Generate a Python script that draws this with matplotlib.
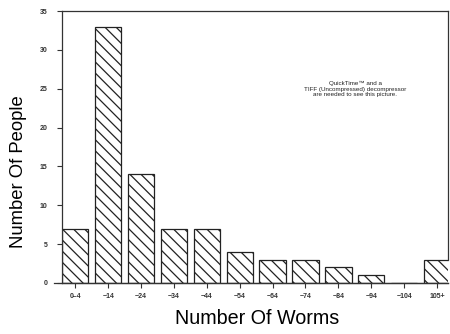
import matplotlib.pyplot as plt
import matplotlib as mpl

# Data
categories = ['0\u20134', '\u221214', '\u221224', '\u221234', '\u221244', '\u221254',
              '\u221264', '\u221274', '\u221284', '\u221294', '\u2212104', '105+']
people = [7, 33, 14, 7, 7, 4, 3, 3, 2, 1, 0, 3]
y_ticks = [0, 5, 10, 15, 20, 25, 30, 35]

mpl.rcParams['hatch.linewidth'] = 0.9
mpl.rcParams['hatch.color'] = '#333333'
mpl.rcParams['font.family'] = ['Liberation Sans', 'DejaVu Sans']

fig = plt.figure(figsize=(4.5, 3.34), dpi=100)
ax = fig.add_axes([0.138, 0.153, 0.858, 0.814])

x = list(range(len(categories)))
ax.bar(x, people, width=0.8, color='white', edgecolor='#222222',
       linewidth=0.9, hatch='\\\\\\')

ax.set_xlim(-0.4, 11.34)
ax.set_ylim(0, 35)
ax.set_xticks(x)
ax.set_xticklabels(categories, fontsize=5, fontweight='bold', color='#333333')
ax.set_yticks(y_ticks)
ax.set_yticklabels(y_ticks, fontsize=5, fontweight='bold', color='#333333')
ax.tick_params(axis='both', length=3.5, width=0.8, color='#333333')
ax.tick_params(axis='x', pad=4)
ax.tick_params(axis='y', pad=7)

for s in ax.spines.values():
    s.set_color('#333333')
    s.set_linewidth(0.9)
ax.spines['right'].set_bounds(3, 35)
ax.axhline(0, xmin=-0.02, xmax=1, color='#333333', linewidth=0.9, clip_on=False)

ax.set_ylabel('Number Of People', fontsize=13.3)
ax.yaxis.set_label_coords(-0.09, 0.408)
ax.set_xlabel('Number Of Worms', fontsize=14.2)
ax.xaxis.set_label_coords(0.505, -0.095)

ax.text(0.759, 0.713, 'QuickTime\u2122 and a\nTIFF (Uncompressed) decompressor\nare needed to see this picture.',
        transform=ax.transAxes, ha='center', va='center', fontsize=4.5,
        color='#222222', linespacing=1.1)

plt.savefig('out.png', dpi=100)
